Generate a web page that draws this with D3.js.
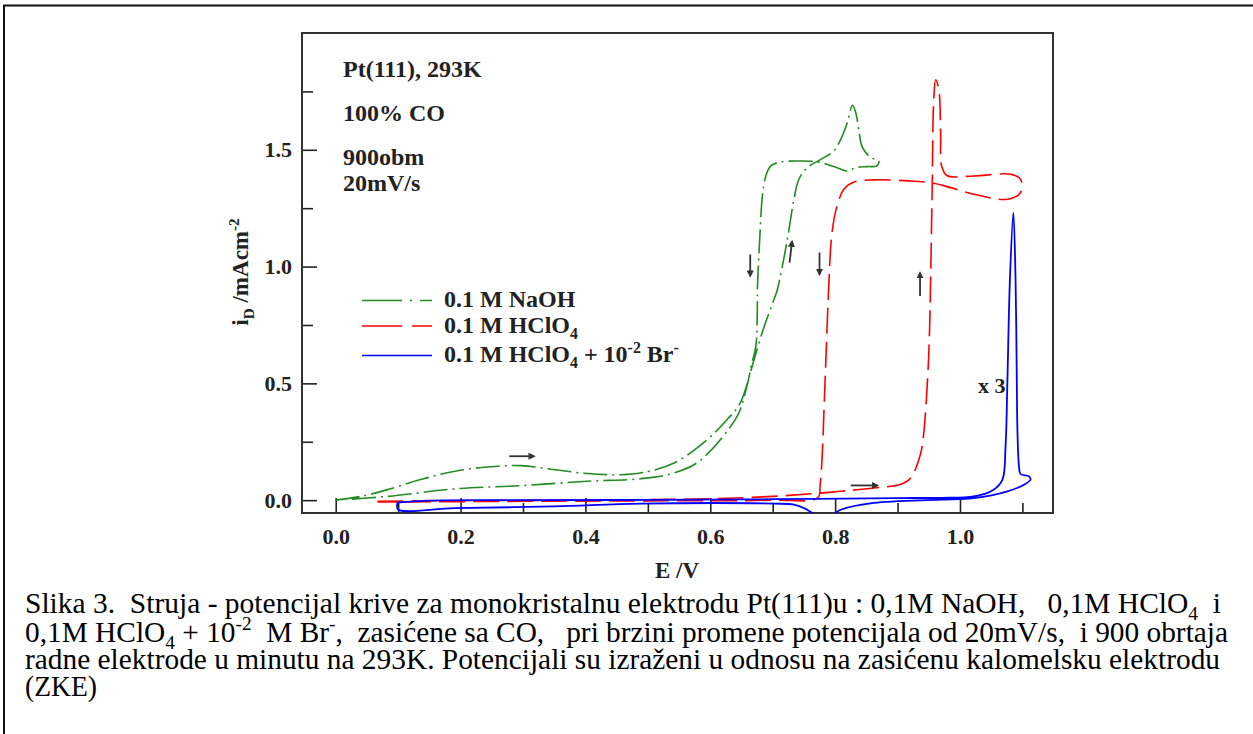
<!DOCTYPE html>
<html>
<head>
<meta charset="utf-8">
<script src="https://cdn.jsdelivr.net/npm/d3@7"></script>
<style>
  html, body { margin: 0; padding: 0; background: #fff; }
  svg { display: block; }
  text { font-family: "Liberation Serif", "Times New Roman", serif; white-space: pre; }
</style>
</head>
<body>
<div id="chart"></div>
<script>
// 0.1 M NaOH: forward scan then reverse scan (E / V, i / mA cm^-2)
const naohE = [0.00, 0.04, 0.083, 0.136, 0.189, 0.243, 0.296, 0.349, 0.403, 0.457, 0.49, 0.542, 0.595, 0.627, 0.648, 0.664, 0.670, 0.686, 0.702, 0.7075, 0.7235, 0.734, 0.742, 0.7556, 0.777, 0.798, 0.809, 0.8196, 0.8277, 0.833, 0.8385, 0.8437, 0.857, 0.870,
  0.867, 0.852, 0.833, 0.82, 0.798, 0.772, 0.745, 0.713, 0.697, 0.689, 0.6835, 0.6797, 0.6755, 0.6755, 0.673, 0.667, 0.657, 0.643, 0.582, 0.54, 0.489, 0.403, 0.296, 0.19, 0.083, 0.00];
const naohI = [0.00, 0.016, 0.045, 0.088, 0.123, 0.142, 0.148, 0.131, 0.114, 0.109, 0.117, 0.159, 0.259, 0.345, 0.416, 0.545, 0.60, 0.74, 0.859, 0.902, 1.117, 1.288, 1.374, 1.424, 1.459, 1.495, 1.545, 1.617, 1.691, 1.66, 1.574, 1.51, 1.467, 1.452,
  1.431, 1.428, 1.424, 1.409, 1.428, 1.448, 1.452, 1.448, 1.431, 1.388, 1.302, 1.145, 0.902, 0.858, 0.658, 0.59, 0.47, 0.359, 0.166, 0.115, 0.092, 0.081, 0.062, 0.048, 0.016, 0.00];

// 0.1 M HClO4
const hclo4E = [0.067, 0.2, 0.4, 0.6, 0.7, 0.766, 0.809, 0.862, 0.905, 0.921, 0.937, 0.942, 0.948, 0.951, 0.953, 0.9555, 0.958, 0.961, 0.966, 0.969, 0.9707, 0.979, 1.022, 1.081, 1.097, 1.097, 1.076, 1.022, 0.985, 0.958, 0.916, 0.862, 0.83, 0.814, 0.803, 0.795, 0.79, 0.787, 0.782, 0.78, 0.776, 0.772, 0.7, 0.5, 0.3, 0.067];
const hclo4I = [-0.005, -0.002, 0.0, 0.006, 0.016, 0.028, 0.038, 0.052, 0.068, 0.095, 0.2, 0.288, 0.516, 0.702, 0.945, 1.345, 1.717, 1.80, 1.76, 1.574, 1.43, 1.39, 1.388, 1.395, 1.374, 1.317, 1.288, 1.31, 1.338, 1.357, 1.367, 1.371, 1.362, 1.331, 1.259, 1.145, 0.931, 0.731, 0.374, 0.231, 0.066, 0.01, 0.0, -0.003, -0.005, -0.008];

// 0.1 M HClO4 + 10^-2 M Br- (x 3)
const brE = [0.099, 0.15, 0.3, 0.5, 0.7, 0.9, 0.969, 1.022, 1.054, 1.068, 1.073, 1.076, 1.080, 1.0855, 1.089, 1.091, 1.092, 1.0945, 1.097, 1.1105, 1.113, 1.1025, 1.076, 1.022, 0.969, 0.862, 0.809, 0.80, 0.782, 0.764, 0.75, 0.734, 0.702, 0.4885, 0.35, 0.19, 0.10, 0.099];
const brI = [-0.01, -0.002, 0.0, 0.001, 0.004, 0.009, 0.01, 0.016, 0.045, 0.088, 0.231, 0.516, 0.945, 1.231, 0.945, 0.516, 0.302, 0.145, 0.112, 0.102, 0.088, 0.066, 0.038, 0.009, 0.002, -0.012, -0.041, -0.055, -0.08, -0.055, -0.034, -0.019, -0.015, -0.015, -0.027, -0.034, -0.04, -0.01];

const seriesNames = ["0.1 M NaOH", "0.1 M HClO4", "0.1 M HClO4 + 10-2 Br-"];
const seriesColors = ["#228b22", "#ff0000", "#0000ff"];
const seriesDash = ["24,5,2,5", "26,8", null];

const xMajor = [0.0, 0.2, 0.4, 0.6, 0.8, 1.0];
const xMinor = [0.1, 0.3, 0.5, 0.7, 0.9, 1.1];
const yMajor = [0.0, 0.5, 1.0, 1.5];
const yMinor = [0.25, 0.75, 1.25, 1.75];

// scan direction arrows [E1, i1, E2, i2]
const arrowsData = [
  [0.278, 0.188, 0.318, 0.188],
  [0.664, 1.052, 0.664, 0.959],
  [0.727, 1.017, 0.731, 1.109],
  [0.775, 1.060, 0.775, 0.966],
  [0.936, 0.874, 0.936, 0.974],
  [0.825, 0.063, 0.868, 0.063]
];

const notes = ["Pt(111), 293K", "100% CO", "900obm", "20mV/s"];

const captionLines = [
  [["Slika 3.  Struja - potencijal krive za monokristalnu elektrodu Pt(111)u : 0,1M NaOH,   0,1M HClO"], ["4", "sub"], ["  i"]],
  [["0,1M HClO"], ["4", "sub"], [" + 10"], ["-2", "sup"], ["  M Br"], ["-", "sup"], [",  zasićene sa CO,   pri brzini promene potencijala od 20mV/s,  i 900 obrtaja"]],
  [["radne elektrode u minutu na 293K. Potencijali su izraženi u odnosu na zasićenu kalomelsku elektrodu"]],
  [["(ZKE)"]]
];
const captionWidths = [1196, 1203, 1195, 72];

const W = 1253, H = 734;
const plot = { left: 302, top: 33, right: 1053, bottom: 513 };

const svg = d3.select("#chart").append("svg")
  .attr("width", W).attr("height", H);

// rich text helper for sub/superscripts
function rich(textSel, parts, size) {
  let shift = 0;
  parts.forEach(p => {
    const kind = p[1];
    let target = kind === "sub" ? size * 0.25 : kind === "sup" ? -size * 0.38 : 0;
    textSel.append("tspan")
      .attr("dy", target - shift)
      .attr("font-size", kind ? size * 0.66 : size)
      .text(p[0]);
    shift = target;
  });
}

// outer frame (top and left edges visible)
svg.append("line").attr("x1", 3).attr("x2", W).attr("y1", 5.5).attr("y2", 5.5)
  .attr("stroke", "#111").attr("stroke-width", 2);
svg.append("line").attr("x1", 4).attr("x2", 4).attr("y1", 5).attr("y2", H)
  .attr("stroke", "#111").attr("stroke-width", 2);

const x = d3.scaleLinear().domain([-0.054, 1.149]).range([plot.left, plot.right]);
const y = d3.scaleLinear().domain([-0.055, 2.0]).range([plot.bottom, plot.top]);

svg.append("defs").append("clipPath").attr("id", "clip")
  .append("rect").attr("x", plot.left).attr("y", plot.top)
  .attr("width", plot.right - plot.left).attr("height", plot.bottom - plot.top);

// axes
const fmt = d3.format(".1f");
function styleAxis(g) {
  g.select(".domain").remove();
  g.selectAll("line").attr("stroke", "#222").attr("stroke-width", 1.6);
  g.selectAll("text").attr("font-size", 22).attr("font-weight", "bold")
    .attr("fill", "#222").attr("font-family", "Liberation Serif, serif");
}
svg.append("g").attr("transform", `translate(0,${plot.bottom})`)
  .call(d3.axisBottom(x).tickValues(xMajor).tickFormat(fmt).tickSize(-15).tickPadding(15))
  .call(styleAxis);
svg.append("g").attr("transform", `translate(0,${plot.bottom})`)
  .call(d3.axisBottom(x).tickValues(xMinor).tickFormat("").tickSize(-10))
  .call(styleAxis);
svg.append("g").attr("transform", `translate(${plot.left},0)`)
  .call(d3.axisLeft(y).tickValues(yMajor).tickFormat(fmt).tickSize(-15).tickPadding(10))
  .call(styleAxis);
svg.append("g").attr("transform", `translate(${plot.left},0)`)
  .call(d3.axisLeft(y).tickValues(yMinor).tickFormat("").tickSize(-11))
  .call(styleAxis);

svg.append("rect")
  .attr("x", plot.left).attr("y", plot.top)
  .attr("width", plot.right - plot.left).attr("height", plot.bottom - plot.top)
  .attr("fill", "none").attr("stroke", "#333").attr("stroke-width", 2);

// curves
const line = d3.line().x(d => x(d[0])).y(d => y(d[1])).curve(d3.curveCatmullRom.alpha(0.5));
const curves = [
  d3.zip(naohE, naohI),
  d3.zip(hclo4E, hclo4I),
  d3.zip(brE, brI)
];
const gCurves = svg.append("g").attr("clip-path", "url(#clip)");
curves.forEach((pts, i) => {
  gCurves.append("path")
    .attr("d", line(pts))
    .attr("fill", "none")
    .attr("stroke", seriesColors[i])
    .attr("stroke-width", i === 2 ? 1.8 : 1.6)
    .attr("stroke-dasharray", seriesDash[i])
    .attr("stroke-linejoin", "round");
});

// arrows
svg.select("defs").append("marker")
  .attr("id", "head").attr("viewBox", "0 0 10 10").attr("refX", 8).attr("refY", 5)
  .attr("markerWidth", 4).attr("markerHeight", 4).attr("orient", "auto")
  .append("path").attr("d", "M0,0L10,5L0,10z").attr("fill", "#333");
svg.append("g").selectAll("line").data(arrowsData).join("line")
  .attr("x1", d => x(d[0])).attr("y1", d => y(d[1]))
  .attr("x2", d => x(d[2])).attr("y2", d => y(d[3]))
  .attr("stroke", "#333").attr("stroke-width", 1.8)
  .attr("marker-end", "url(#head)");

// notes in upper-left
const noteY = [77, 121, 165, 191];
svg.append("g").selectAll("text").data(notes).join("text")
  .attr("x", 343).attr("y", (d, i) => noteY[i])
  .attr("font-size", 24).attr("font-weight", "bold").attr("fill", "#222")
  .text(d => d);

svg.append("text").attr("x", 978).attr("y", 393)
  .attr("font-size", 22).attr("font-weight", "bold").attr("fill", "#222").text("x 3");

// legend
const legendY = [300.5, 326, 355.5];
const legendParts = [
  [["0.1 M NaOH"]],
  [["0.1 M HClO"], ["4", "sub"]],
  [["0.1 M HClO"], ["4", "sub"], [" + 10"], ["-2", "sup"], [" Br"], ["-", "sup"]]
];
const gLeg = svg.append("g");
seriesNames.forEach((name, i) => {
  gLeg.append("line")
    .attr("x1", 362).attr("x2", 432).attr("y1", legendY[i]).attr("y2", legendY[i])
    .attr("stroke", seriesColors[i]).attr("stroke-width", 1.6)
    .attr("stroke-dasharray", i === 0 ? "40,8,2,8" : i === 1 ? "40,10" : null);
  const t = gLeg.append("text").attr("x", 444).attr("y", legendY[i] + 6.5)
    .attr("font-size", 24).attr("font-weight", "bold").attr("fill", "#222");
  rich(t, legendParts[i], 24);
});

// axis titles
svg.append("text").attr("x", 677).attr("y", 578).attr("text-anchor", "middle")
  .attr("font-size", 23).attr("font-weight", "bold").attr("fill", "#222").text("E /V");
const yt = svg.append("text")
  .attr("transform", "translate(248,272) rotate(-90)")
  .attr("text-anchor", "middle")
  .attr("font-size", 23).attr("font-weight", "bold").attr("fill", "#222");
rich(yt, [["i"], ["D", "sub"], [" /mAcm"], ["-2", "sup"]], 23);

// caption
const capY = [613, 641.5, 669, 696];
captionLines.forEach((parts, i) => {
  const t = svg.append("text")
    .attr("x", 25).attr("y", capY[i])
    .attr("font-size", 29).attr("fill", "#000")
    .attr("textLength", captionWidths[i]).attr("lengthAdjust", "spacingAndGlyphs");
  rich(t, parts, 29);
});
</script>
</body>
</html>
